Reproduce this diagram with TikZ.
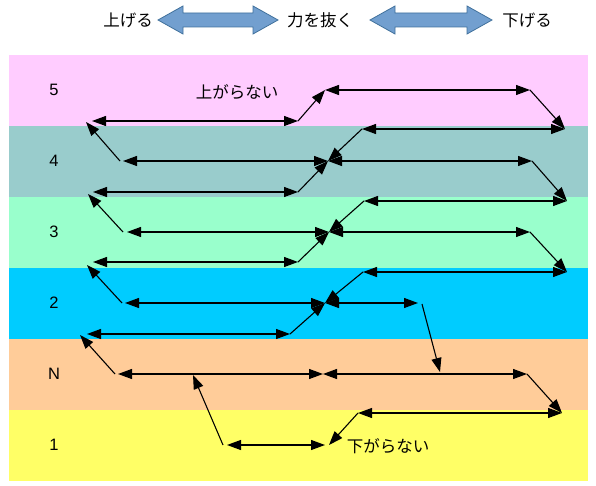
\documentclass[tikz,border=0pt]{standalone}
\usepackage{fontspec}
\setmainfont{Liberation Sans}
\newfontfamily\jpfont{Noto Sans CJK JP}
\usetikzlibrary{arrows.meta, calc}

\definecolor{bandfive}{HTML}{FFCCFF}
\definecolor{bandfour}{HTML}{99CCCC}
\definecolor{bandthree}{HTML}{99FFCC}
\definecolor{bandtwo}{HTML}{00CCFF}
\definecolor{bandn}{HTML}{FFCC99}
\definecolor{bandone}{HTML}{FFFF66}
\definecolor{blockfill}{RGB}{114,159,207}
\definecolor{blockline}{RGB}{65,113,156}

\begin{document}
\begin{tikzpicture}[
    x=1pt, y=-1pt,
    lbl/.style={font=\fontsize{16.5}{20}\selectfont, inner sep=0pt},
    jp/.style={font=\fontsize{16.5}{20}\selectfont\jpfont, inner sep=0pt},
    Tri/.tip={Triangle[length=14pt, width=10pt]},
    both/.style={Tri-Tri, line width=1.1pt},
    one/.style={-Tri, line width=1.1pt}
  ]
  \useasboundingbox (0,0) rectangle (596,486);

  % bands and their labels
  \foreach \c/\lab [count=\i from 0] in
      {bandfive/5, bandfour/4, bandthree/3, bandtwo/2, bandn/N, bandone/1} {
    \fill[\c] (9,55+71*\i) rectangle (588,126+71*\i);
    \node[lbl] (lab\lab) at (54,90+71*\i) {\lab};
  }

  % header
  \node[jp] (up) at (128,20) {上げる};
  \node[jp] (relax) at (320,20) {力を抜く};
  \node[jp] (down) at (527,20) {下げる};
  \foreach \xa/\xb in {158/278, 370/492} {
    \filldraw[fill=blockfill, draw=blockline, line width=0.8pt]
      (\xa,20) -- (\xa+25,6) -- (\xa+25,13) -- (\xb-25,13) -- (\xb-25,6)
      -- (\xb,20) -- (\xb-25,34) -- (\xb-25,27) -- (\xa+25,27)
      -- (\xa+25,34) -- cycle;
  }

  \node[jp] (noup) at (237,92) {上がらない};
  \node[jp] (nodown) at (388,446) {下がらない};

  % end points, band by band
  \coordinate (x5) at (325,90);  \coordinate (m5b) at (530,90);
  \coordinate (b5a) at (92,121); \coordinate (b5b) at (298,121);

  \coordinate (t4a) at (362,129); \coordinate (t4b) at (565,129);
  \coordinate (m4a) at (123,161); \coordinate (x4) at (328,161);
  \coordinate (m4b) at (532,161);
  \coordinate (b4a) at (93,192);  \coordinate (b4b) at (298,192);

  \coordinate (t3a) at (364,201); \coordinate (t3b) at (567,201);
  \coordinate (m3a) at (127,232); \coordinate (x3) at (329,232);
  \coordinate (m3b) at (530,232);
  \coordinate (b3a) at (93,262);  \coordinate (b3b) at (298,262);

  \coordinate (t2a) at (363,272); \coordinate (t2b) at (567,272);
  \coordinate (m2a) at (125,303); \coordinate (x2) at (325,303);
  \coordinate (m2b) at (418,303);
  \coordinate (b2a) at (87,334);  \coordinate (b2b) at (290,334);

  \coordinate (mNa) at (118,374); \coordinate (xN) at (323,374);
  \coordinate (mNb) at (527,374);
  \coordinate (dN) at (440,372);  \coordinate (uN) at (193,375);

  \coordinate (t1a) at (358,413); \coordinate (t1b) at (562,413);
  \coordinate (r1a) at (227,445); \coordinate (r1b) at (325,445);

  % horizontal moves
  \draw[both] (x5) -- (m5b);
  \draw[both] (b5a) -- (b5b);
  \draw[both] (t4a) -- (t4b);
  \draw[both] (m4a) -- (x4);
  \draw[both] (x4) -- (m4b);
  \draw[both] (b4a) -- (b4b);
  \draw[both] (t3a) -- (t3b);
  \draw[both] (m3a) -- (x3);
  \draw[both] (x3) -- (m3b);
  \draw[both] (b3a) -- (b3b);
  \draw[both] (t2a) -- (t2b);
  \draw[both] (m2a) -- (x2);
  \draw[both] (x2) -- (m2b);
  \draw[both] (b2a) -- (b2b);
  \draw[both] (mNa) -- (xN);
  \draw[both] (xN) -- (mNb);
  \draw[both] (t1a) -- (t1b);
  \draw[both] (r1a) -- (r1b);

  % diagonal moves
  \draw[one] (b5b) -- (x5);
  \draw[one] (m5b) -- (t4b);
  \draw[one] (t4a) -- (x4);
  \draw[one] (b4b) -- (x4);
  \draw[one] (m4b) -- (t3b);
  \draw[one] ($(m4a)+(-3,0)$) -- ($(b5a)+(-6,1)$);
  \draw[one] (t3a) -- (x3);
  \draw[one] (b3b) -- (x3);
  \draw[one] (m3b) -- (t2b);
  \draw[one] ($(m3a)+(-4,0)$) -- ($(b4a)+(-5,2)$);
  \draw[one] (t2a) -- (x2);
  \draw[one] (b2b) -- (x2);
  \draw[one] ($(m2b)+(4,1)$) -- (dN);
  \draw[one] ($(m2a)+(-3,0)$) -- ($(b3a)+(-6,3)$);
  \draw[one] (mNb) -- (t1b);
  \draw[one] ($(mNa)+(-3,0)$) -- ($(b2a)+(-7,1)$);
  \draw[one] (t1a) -- ($(r1b)+(4,0)$);
  \draw[one] ($(r1a)+(-4,0)$) -- (uN);
\end{tikzpicture}
\end{document}
